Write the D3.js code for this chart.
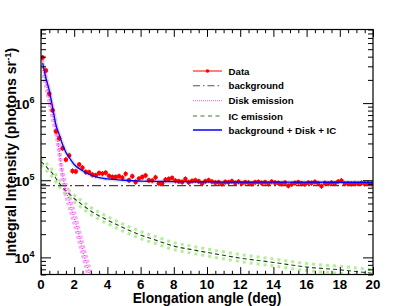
<!DOCTYPE html>
<html><head><meta charset="utf-8">
<script src="https://cdn.jsdelivr.net/npm/d3@7"></script>
<style>
body{margin:0;background:#fff}
</style>
</head><body><svg id="c" width="415" height="306" font-family="Liberation Sans, Arial, sans-serif" font-weight="bold"></svg>
<script>
// ---------- data ----------
const dataX = [0.1,0.3,0.5,0.7,0.9,1.1,1.3,1.5,1.7,1.9,2.1,2.3,2.5,2.7,2.9,3.1,3.3,3.5,3.7,3.9,
  4.1,4.3,4.5,4.7,4.9,5.1,5.3,5.5,5.7,5.9,6.1,6.3,6.5,6.7,6.9,7.1,7.3,7.5,7.7,7.9,
  8.1,8.3,8.5,8.7,8.9,9.1,9.3,9.5,9.7,9.9,10.1,10.3,10.5,10.7,10.9,11.1,11.3,11.5,11.7,11.9,
  12.1,12.3,12.5,12.7,12.9,13.1,13.3,13.5,13.7,13.9,14.1,14.3,14.5,14.7,14.9,15.1,15.3,15.5,15.7,15.9,
  16.1,16.3,16.5,16.7,16.9,17.1,17.3,17.5,17.7,17.9,18.1,18.3,18.5,18.7,18.9,19.1,19.3,19.5,19.7,19.9];
const dataY = [3.9e6,2.65e6,1.32e6,8.1e5,4.3e5,3.5e5,2.6e5,1.85e5,2.1e5,1.32e5,1.3e5,1.6e5,1.45e5,1.28e5,1.27e5,1.18e5,1.16e5,1.24e5,1.22e5,1.25e5,
  1.14e5,1.1e5,1.1e5,1.13e5,1.08e5,1.21e5,1.0e5,1.13e5,9.5e4,1.05e5,1.1e5,1.15e5,1.0e5,9.9e4,1.09e5,9.1e4,9.1e4,1.02e5,1.04e5,1.07e5,
  9.9e4,9.7e4,9.5e4,1.04e5,9.4e4,9.8e4,1.0e5,9.7e4,9.1e4,9.7e4,1.0e5,9.6e4,9.3e4,9.4e4,8.9e4,9.5e4,9.4e4,9.7e4,9.2e4,9.6e4,
  9.1e4,9.4e4,9.3e4,9.0e4,9.4e4,9.5e4,9.2e4,9.4e4,9.0e4,9.6e4,9.3e4,9.2e4,9.0e4,9.3e4,8.5e4,8.9e4,9.2e4,9.4e4,9.1e4,8.9e4,
  9.3e4,9.2e4,9.5e4,9.1e4,8.4e4,9.2e4,9.0e4,9.3e4,9.1e4,9.6e4,9.9e4,9.0e4,9.1e4,9.0e4,9.1e4,9.0e4,9.2e4,9.0e4,9.1e4,9.0e4];
const dataRelErr = 0.08;

const bgX = [0, 20];
const bgY = [8.5e4, 8.5e4];

const icX = [0,0.25,0.5,0.75,1,1.25,1.5,1.75,2,2.5,3,3.5,4,5,6,7,8,9,10,12,14,16,18,20];
const icY = [1.75e5,1.55e5,1.35e5,1.18e5,9.8e4,8.3e4,7.3e4,6.5e4,5.8e4,4.8e4,4.0e4,3.45e4,3.05e4,2.4e4,1.95e4,1.65e4,1.4e4,1.27e4,1.16e4,9.8e3,8.6e3,7.5e3,6.9e3,6.2e3];
const icBand = 1.11;

const diskX = [0.1,0.3,0.5,0.7,0.9,1.1,1.3,1.5,1.7,1.9,2.1,2.3,2.5,2.7,2.9,3.1,3.3];
const diskY = [2.9e6,1.86e6,1.17e6,7.2e5,4.6e5,2.35e5,1.17e5,7.4e4,5.4e4,3.8e4,2.75e4,1.9e4,1.29e4,8.9e3,6.3e3,4.4e3,3.0e3];
const diskBand = 1.25;

const totX = [0.1,0.3,0.5,0.7,0.9,1.1,1.3,1.5,1.75,2,2.5,3,3.5,4,5,6,8,10,14,20];
const totY = [3.3e6,2.1e6,1.45e6,8.8e5,5.2e5,3.9e5,2.9e5,2.3e5,1.9e5,1.6e5,1.33e5,1.17e5,1.08e5,1.04e5,1.0e5,9.75e4,9.6e4,9.5e4,9.45e4,9.4e4];

const xMajor = [0,2,4,6,8,10,12,14,16,18,20];
const yMajor = [1e4,1e5,1e6];
const yExp = ["4","5","6"];
const legendLabels = ["Data","background","Disk emission","IC emission","background + Disk + IC"];
const xTitle = "Elongation angle (deg)";

// ---------- chart ----------
const svg = d3.select("#c");
const L=41,R=373,T=29.5,B=274.5;
const x = d3.scaleLinear().domain([0,20]).range([L,R]);
const y = d3.scaleLog().domain([6e3,9e6]).range([B,T]);

svg.append("defs").append("clipPath").attr("id","clip")
  .append("rect").attr("x",L).attr("y",T).attr("width",R-L).attr("height",B-T);
const plot = svg.append("g").attr("clip-path","url(#clip)");

const line = (xs,ys,f=1)=> d3.line().x(i=>x(xs[i])).y(i=>y(ys[i]*f)).curve(d3.curveMonotoneX)(d3.range(xs.length));

// grey band around total
plot.append("path").attr("d",line(totX,totY)).attr("fill","none").attr("stroke","#e4e4e4").attr("stroke-width",4.5);

// IC band
[icBand,1/icBand].forEach(f=>{
  plot.append("path").attr("d",line(icX,icY,f)).attr("fill","none")
   .attr("stroke","#b2f095").attr("stroke-width",3).attr("stroke-dasharray","3,4");
});
// Disk band
[diskBand,1/diskBand].forEach(f=>{
  plot.append("path").attr("d",line(diskX,diskY,f)).attr("fill","none")
   .attr("stroke","#f5aef2").attr("stroke-width",2.6).attr("stroke-dasharray","3,2");
});

// background
plot.append("path").attr("d",line(bgX,bgY)).attr("fill","none").attr("stroke","#444")
  .attr("stroke-width",1.2).attr("stroke-dasharray","9,3,2,3");
// IC
plot.append("path").attr("d",line(icX,icY)).attr("fill","none").attr("stroke","#1f3f14")
  .attr("stroke-width",1.1).attr("stroke-dasharray","4,3");
// disk
plot.append("path").attr("d",line(diskX,diskY)).attr("fill","none").attr("stroke","#ff00ff")
  .attr("stroke-width",1.2).attr("stroke-dasharray","1,1.5");

// data
const dg = plot.append("g");
dataX.forEach((xv,i)=>{
  const v=dataY[i];
  dg.append("line").attr("x1",x(xv)).attr("x2",x(xv)).attr("y1",y(v*(1+dataRelErr))).attr("y2",y(v*(1-dataRelErr)))
    .attr("stroke","#ff0000").attr("stroke-width",1);
  dg.append("line").attr("x1",x(xv-0.1)).attr("x2",x(xv+0.1)).attr("y1",y(v)).attr("y2",y(v))
    .attr("stroke","#ff0000").attr("stroke-width",1);
  dg.append("circle").attr("cx",x(xv)).attr("cy",y(v)).attr("r",2.2).attr("fill","#ff0000");
});

// total
plot.append("path").attr("d",line(totX,totY)).attr("fill","none").attr("stroke","#0000ff").attr("stroke-width",1.3);

// ---------- axes ----------
const xMinor = d3.range(0,20.01,0.5).filter(v=>!xMajor.includes(v));
const yMinor = [];
[1e3,1e4,1e5,1e6].forEach(d=>{for(let k=2;k<=9;k++){const v=k*d; if(v>=6e3&&v<=9e6) yMinor.push(v);}});

const ax = (gen, vals, size, tr)=>{
  const g = svg.append("g").attr("transform",tr).call(gen.tickValues(vals).tickSize(size).tickFormat("").tickSizeOuter(0));
  g.select(".domain").remove();
  g.selectAll("line").attr("stroke","#000").attr("stroke-width",1);
  return g;
};
ax(d3.axisBottom(x),xMajor,-7.4,`translate(0,${B})`);
ax(d3.axisBottom(x),xMinor,-3.7,`translate(0,${B})`);
ax(d3.axisTop(x),xMajor,-7.4,`translate(0,${T})`);
ax(d3.axisTop(x),xMinor,-3.7,`translate(0,${T})`);
ax(d3.axisLeft(y),yMajor,-10,`translate(${L},0)`);
ax(d3.axisLeft(y),yMinor,-5,`translate(${L},0)`);
ax(d3.axisRight(y),yMajor,-10,`translate(${R},0)`);
ax(d3.axisRight(y),yMinor,-5,`translate(${R},0)`);

svg.append("rect").attr("x",L).attr("y",T).attr("width",R-L).attr("height",B-T)
  .attr("fill","none").attr("stroke","#000").attr("stroke-width",1.2);

const txt = (sel)=>sel.attr("font-family","Liberation Sans, Arial, sans-serif").attr("font-weight","bold").attr("fill","#000");

// tick labels
txt(svg.append("g").selectAll("text").data(xMajor).join("text"))
  .attr("x",d=>x(d)).attr("y",289).attr("text-anchor","middle").attr("font-size",13.3).text(d=>d);
const yl = txt(svg.append("g").selectAll("text").data(yMajor).join("text"))
  .attr("x",34.5).attr("y",d=>y(d)+5.5).attr("text-anchor","end").attr("font-size",13.5);
yl.append("tspan").text("10");
yl.append("tspan").attr("dy",-6).attr("font-size",9).text((d,i)=>yExp[i]);

// axis titles
txt(svg.append("text")).attr("x",(L+R)/2).attr("y",302.5).attr("text-anchor","middle").attr("font-size",13.8).text(xTitle);
const yt = txt(svg.append("text")).attr("transform",`translate(15.5,${(T+B)/2}) rotate(-90)`).attr("text-anchor","middle").attr("font-size",14.2);
yt.append("tspan").text("Integral Intensity (photons sr");
yt.append("tspan").attr("dy",-5).attr("font-size",9.5).text("-1");
yt.append("tspan").attr("dy",5).text(")");

// ---------- legend ----------
const lg = svg.append("g");
const rowsY = [71,85.7,100.7,116,130];
const lx1=193, lx2=222;
const sample = [
  g=>{g.append("line").attr("stroke","#ff0000").attr("stroke-width",1);
      g.append("circle").attr("cx",(lx1+lx2)/2).attr("r",1.8).attr("fill","#ff0000");},
  g=>g.append("line").attr("stroke","#555").attr("stroke-width",1.1).attr("stroke-dasharray","7,3,1.5,3"),
  g=>g.append("line").attr("stroke","#f080f0").attr("stroke-width",1.2).attr("stroke-dasharray","1,1"),
  g=>g.append("line").attr("stroke","#3d7a2a").attr("stroke-width",1.1).attr("stroke-dasharray","4,3.5"),
  g=>g.append("line").attr("stroke","#0000ff").attr("stroke-width",1.5)
];
legendLabels.forEach((lab,i)=>{
  const g = lg.append("g").attr("transform",`translate(0,${rowsY[i]})`);
  sample[i](g);
  g.selectAll("line").attr("x1",lx1).attr("x2",lx2).attr("y1",0).attr("y2",0);
  txt(g.append("text")).attr("x",228.5).attr("y",3.5).attr("font-size",9.7).text(lab);
});
</script></body></html>
